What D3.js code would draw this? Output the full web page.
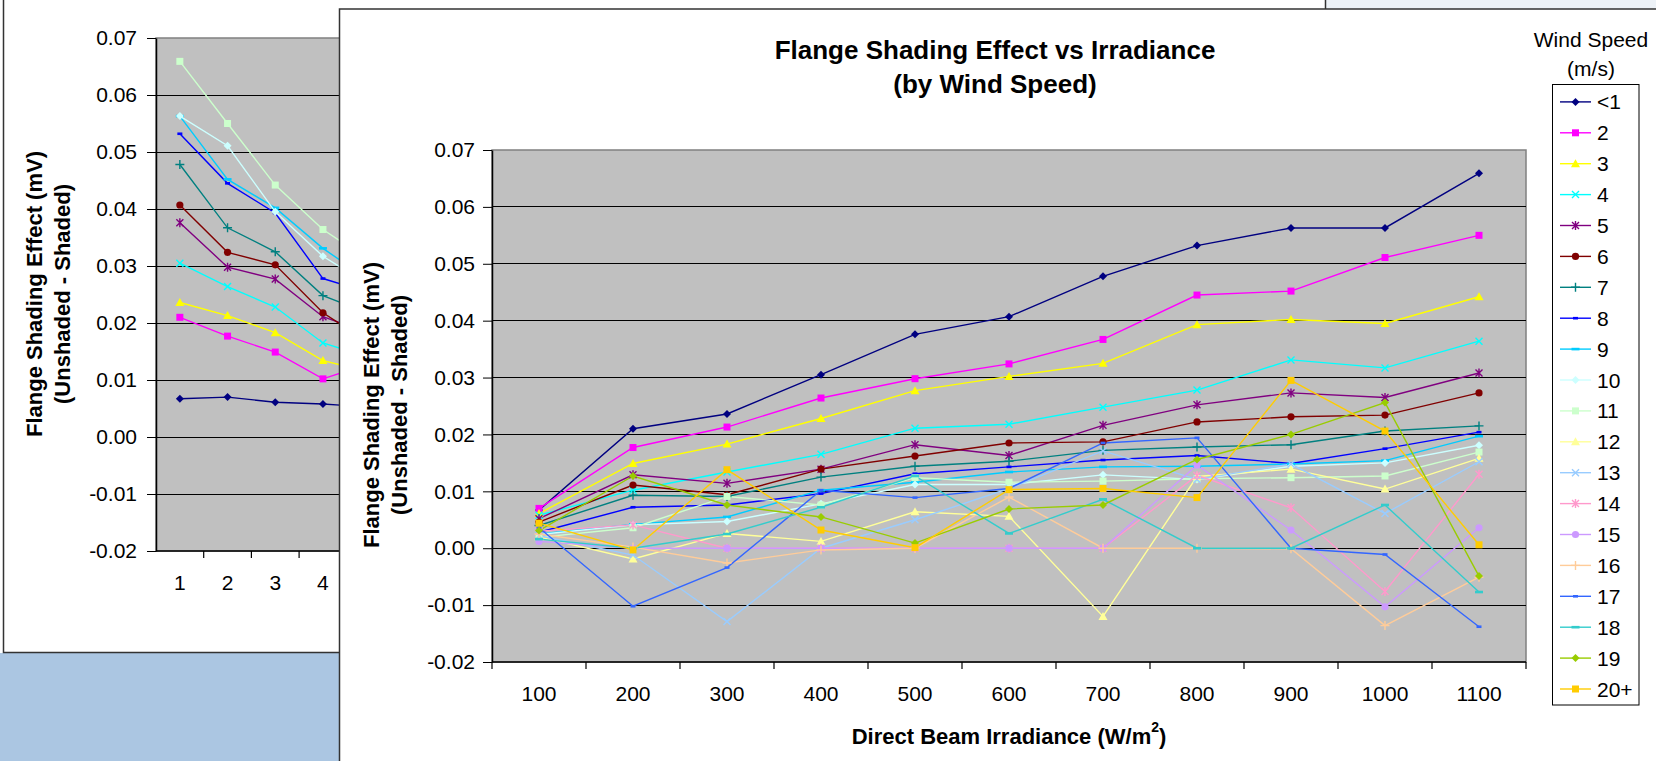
<!DOCTYPE html>
<html>
<head>
<meta charset="utf-8">
<script src="https://cdn.jsdelivr.net/npm/d3@7"></script>
<style>
  html, body { margin: 0; padding: 0; background: #fff; }
  svg { display: block; font-family: "Liberation Sans", Arial, sans-serif; }
</style>
</head>
<body>
<svg id="chart" width="1656" height="761"></svg>
<script>
// ---- data ---------------------------------------------------------------
const irradiance = [100, 200, 300, 400, 500, 600, 700, 800, 900, 1000, 1100];
const windLabels = ["<1", "2", "3", "4", "5", "6", "7", "8", "9", "10",
                    "11", "12", "13", "14", "15", "16", "17", "18", "19", "20+"];
const yTicks = [-0.02, -0.01, 0.00, 0.01, 0.02, 0.03, 0.04, 0.05, 0.06, 0.07];

// flange shading effect (mV) per wind-speed class, over irradiance 100..1100
const windLt1 = [0.0067, 0.0210, 0.0236, 0.0305, 0.0376, 0.0407, 0.0478, 0.0532, 0.0563, 0.0563, 0.0659];
const wind2   = [0.0070, 0.0177, 0.0213, 0.0264, 0.0298, 0.0324, 0.0367, 0.0445, 0.0452, 0.0511, 0.0550];
const wind3   = [0.0061, 0.0149, 0.0183, 0.0228, 0.0277, 0.0302, 0.0325, 0.0393, 0.0402, 0.0395, 0.0442];
const wind4   = [0.0058, 0.0102, 0.0134, 0.0165, 0.0211, 0.0218, 0.0248, 0.0278, 0.0331, 0.0317, 0.0364];
const wind5   = [0.0052, 0.0129, 0.0114, 0.0139, 0.0182, 0.0163, 0.0216, 0.0252, 0.0273, 0.0265, 0.0308];
const wind6   = [0.0046, 0.0111, 0.0094, 0.0139, 0.0162, 0.0185, 0.0187, 0.0222, 0.0231, 0.0234, 0.0273];
const wind7   = [0.0040, 0.0093, 0.0091, 0.0125, 0.0144, 0.0153, 0.0172, 0.0178, 0.0182, 0.0206, 0.0215];
const wind8   = [0.0028, 0.0072, 0.0076, 0.0096, 0.0131, 0.0143, 0.0155, 0.0163, 0.0149, 0.0175, 0.0204];
const wind9   = [0.0025, 0.0042, 0.0055, 0.0102, 0.0116, 0.0134, 0.0143, 0.0144, 0.0148, 0.0154, 0.0197];
const wind10  = [0.0024, 0.0041, 0.0047, 0.0078, 0.0112, 0.0112, 0.0129, 0.0121, 0.0144, 0.0150, 0.0181];
const wind11  = [0.0019, 0.0036, 0.0091, 0.0076, 0.0124, 0.0116, 0.0118, 0.0122, 0.0124, 0.0127, 0.0169];
const wind12  = [0.0020, -0.0019, 0.0026, 0.0012, 0.0064, 0.0056, -0.0120, 0.0126, 0.0139, 0.0104, 0.0158];
const wind13  = [0.0022, -0.0012, -0.0129, 0.0000, 0.0050, 0.0105, 0.0171, 0.0121, 0.0148, 0.0061, 0.0152];
const wind14  = [0.0030, 0.0041, 0.0000, 0.0000, 0.0000, 0.0000, 0.0000, 0.0128, 0.0071, -0.0076, 0.0130];
const wind15  = [0.0012, 0.0000, 0.0000, 0.0000, 0.0000, 0.0000, 0.0000, 0.0146, 0.0032, -0.0103, 0.0036];
const wind16  = [0.0025, 0.0002, -0.0026, -0.0003, 0.0000, 0.0090, 0.0000, 0.0000, -0.0001, -0.0136, -0.0051];
const wind17  = [0.0036, -0.0102, -0.0034, 0.0102, 0.0089, 0.0105, 0.0185, 0.0194, 0.0000, -0.0011, -0.0138];
const wind18  = [0.0016, 0.0000, 0.0025, 0.0072, 0.0127, 0.0026, 0.0086, 0.0000, 0.0000, 0.0076, -0.0077];
const wind19  = [0.0031, 0.0127, 0.0076, 0.0055, 0.0009, 0.0069, 0.0076, 0.0156, 0.0200, 0.0256, -0.0049];
const wind20p = [0.0044, -0.0003, 0.0138, 0.0032, 0.0001, 0.0103, 0.0105, 0.0089, 0.0295, 0.0206, 0.0006];

const windSeries = [windLt1, wind2, wind3, wind4, wind5, wind6, wind7, wind8, wind9, wind10,
                    wind11, wind12, wind13, wind14, wind15, wind16, wind17, wind18, wind19, wind20p];

const seriesColors = ["#000080", "#FF00FF", "#FFFF00", "#00FFFF", "#800080", "#800000", "#008080",
                      "#0000FF", "#00CCFF", "#CCFFFF", "#CCFFCC", "#FFFF99", "#99CCFF", "#FF99CC",
                      "#CC99FF", "#FFCC99", "#3366FF", "#33CCCC", "#99CC00", "#FFCC00"];
const seriesMarkers = ["diamond", "square", "triangle", "x", "star", "circle", "plus", "dash", "longdash",
                       "diamond", "square", "triangle", "x", "star", "circle", "plus", "dash", "longdash",
                       "diamond", "square"];

// ---- helpers ------------------------------------------------------------
const svg = d3.select("#chart");
const fmt = d => d.toFixed(2);

function drawMarker(g, type, cx, cy, color) {
  const m = g.append("g").attr("transform", `translate(${cx},${cy})`);
  switch (type) {
    case "diamond":
      m.append("path").attr("d", "M0,-4L4,0L0,4L-4,0Z").attr("fill", color); break;
    case "square":
      m.append("rect").attr("x", -3.5).attr("y", -3.5).attr("width", 7).attr("height", 7).attr("fill", color); break;
    case "triangle":
      m.append("path").attr("d", "M0,-4.5L4.5,3.5L-4.5,3.5Z").attr("fill", color); break;
    case "x":
      m.append("path").attr("d", "M-3.5,-3.5L3.5,3.5M-3.5,3.5L3.5,-3.5")
        .attr("stroke", color).attr("stroke-width", 1.4).attr("fill", "none"); break;
    case "star":
      m.append("path").attr("d", "M-3.5,-3.5L3.5,3.5M-3.5,3.5L3.5,-3.5M0,-4.5L0,4.5")
        .attr("stroke", color).attr("stroke-width", 1.4).attr("fill", "none"); break;
    case "circle":
      m.append("circle").attr("r", 3.6).attr("fill", color); break;
    case "plus":
      m.append("path").attr("d", "M-4.5,0L4.5,0M0,-4.5L0,4.5")
        .attr("stroke", color).attr("stroke-width", 1.4).attr("fill", "none"); break;
    case "dash":
      m.append("rect").attr("x", -2.5).attr("y", -1.3).attr("width", 5).attr("height", 2.6).attr("fill", color); break;
    case "longdash":
      m.append("rect").attr("x", -4).attr("y", -1.3).attr("width", 8).attr("height", 2.6).attr("fill", color); break;
  }
}

function yTitle(g, cx1, cx2, cy) {
  g.append("text").attr("transform", `translate(${cx1},${cy}) rotate(-90)`)
    .attr("text-anchor", "middle").attr("dominant-baseline", "central")
    .attr("font-weight", "bold").attr("font-size", 22).text("Flange Shading Effect (mV)");
  g.append("text").attr("transform", `translate(${cx2},${cy}) rotate(-90)`)
    .attr("text-anchor", "middle").attr("dominant-baseline", "central")
    .attr("font-weight", "bold").attr("font-size", 22).text("(Unshaded - Shaded)");
}

// ---- page backdrop ------------------------------------------------------
svg.append("rect").attr("width", 1656).attr("height", 761).attr("fill", "#fff");
svg.append("rect").attr("x", 0).attr("y", 653).attr("width", 340).attr("height", 108).attr("fill", "#abc6e2");
svg.append("rect").attr("x", 1325).attr("y", 0).attr("width", 331).attr("height", 9).attr("fill", "#edf2f7");
svg.append("line").attr("x1", 1325.5).attr("x2", 1325.5).attr("y1", 0).attr("y2", 9)
  .attr("stroke", "#333").attr("stroke-width", 1.5);

// ---- background chart: effect by wind-speed index, one line per irradiance ----
const back = svg.append("g");
back.append("path").attr("d", "M3.5,0V652.5H340").attr("fill", "none").attr("stroke", "#333").attr("stroke-width", 1.5);

const windIndex = windLabels.map((d, i) => i + 1);
const xB = d3.scaleBand().domain(windIndex).range([156, 156 + 47.7 * windIndex.length]);
const yB = d3.scaleLinear().domain([-0.02, 0.07]).range([551, 38]);

back.append("clipPath").attr("id", "backClip")
  .append("rect").attr("x", 0).attr("y", 0).attr("width", 340).attr("height", 653);
const bk = back.append("g").attr("clip-path", "url(#backClip)");

bk.append("rect").attr("x", xB.range()[0]).attr("y", yB(0.07))
  .attr("width", xB.range()[1] - xB.range()[0]).attr("height", yB(-0.02) - yB(0.07))
  .attr("fill", "#c0c0c0").attr("stroke", "#808080").attr("stroke-width", 1.5);
yTicks.slice(1, -1).forEach(t => {
  bk.append("line").attr("x1", xB.range()[0]).attr("x2", xB.range()[1])
    .attr("y1", yB(t)).attr("y2", yB(t)).attr("stroke", "#000").attr("stroke-width", 1)
    .attr("shape-rendering", "crispEdges");
});
bk.append("line").attr("x1", xB.range()[0]).attr("x2", xB.range()[1]).attr("y1", yB(-0.02)).attr("y2", yB(-0.02))
  .attr("stroke", "#000").attr("stroke-width", 1.5);

const axB = bk.append("g").attr("transform", `translate(${xB.range()[0]},0)`)
  .call(d3.axisLeft(yB).tickValues(yTicks).tickFormat(fmt).tickSize(9).tickSizeOuter(0).tickPadding(10));
axB.select(".domain").attr("stroke", "#000").attr("stroke-width", 1.5);
axB.selectAll("text").attr("font-size", 21).attr("fill", "#000").attr("font-family", "Liberation Sans, Arial, sans-serif");

windIndex.forEach(d => {
  bk.append("line").attr("x1", xB(d) + xB.bandwidth()).attr("x2", xB(d) + xB.bandwidth())
    .attr("y1", yB(-0.02)).attr("y2", yB(-0.02) + 7).attr("stroke", "#000").attr("stroke-width", 1.2);
  bk.append("text").attr("x", xB(d) + xB.bandwidth() / 2).attr("y", 582)
    .attr("text-anchor", "middle").attr("dominant-baseline", "central").attr("font-size", 21).text(d);
});

irradiance.forEach((irr, k) => {
  const vals = windSeries.map(s => s[k]);
  const line = d3.line().x((v, i) => xB(windIndex[i]) + xB.bandwidth() / 2).y(v => yB(v));
  bk.append("path").attr("d", line(vals)).attr("fill", "none")
    .attr("stroke", seriesColors[k]).attr("stroke-width", 1.4);
  vals.forEach((v, i) => drawMarker(bk, seriesMarkers[k], xB(windIndex[i]) + xB.bandwidth() / 2, yB(v), seriesColors[k]));
});

yTitle(back, 34, 62, 294);

// ---- main chart panel ---------------------------------------------------
const main = svg.append("g");
main.append("rect").attr("x", 339.5).attr("y", 9).attr("width", 1320).attr("height", 760)
  .attr("fill", "#fff").attr("stroke", "#333").attr("stroke-width", 1.5);

const x = d3.scaleBand().domain(irradiance).range([492, 1526]);
const y = d3.scaleLinear().domain([-0.02, 0.07]).range([662, 150]);
const cx = d => x(d) + x.bandwidth() / 2;

main.append("rect").attr("x", 492).attr("y", y(0.07)).attr("width", 1526 - 492).attr("height", y(-0.02) - y(0.07))
  .attr("fill", "#c0c0c0").attr("stroke", "#808080").attr("stroke-width", 1.5);
yTicks.slice(1, -1).forEach(t => {
  main.append("line").attr("x1", 492).attr("x2", 1526).attr("y1", y(t)).attr("y2", y(t))
    .attr("stroke", "#000").attr("stroke-width", 1).attr("shape-rendering", "crispEdges");
});

const axY = main.append("g").attr("transform", "translate(492,0)")
  .call(d3.axisLeft(y).tickValues(yTicks).tickFormat(fmt).tickSize(9).tickSizeOuter(0).tickPadding(8));
axY.select(".domain").attr("stroke", "#000").attr("stroke-width", 1.5);
axY.selectAll("text").attr("font-size", 21).attr("fill", "#000").attr("font-family", "Liberation Sans, Arial, sans-serif");

main.append("line").attr("x1", 492).attr("x2", 1526).attr("y1", y(-0.02)).attr("y2", y(-0.02))
  .attr("stroke", "#000").attr("stroke-width", 1.5);
irradiance.forEach(d => {
  main.append("line").attr("x1", x(d)).attr("x2", x(d)).attr("y1", y(-0.02)).attr("y2", y(-0.02) + 7)
    .attr("stroke", "#000").attr("stroke-width", 1.2);
  main.append("text").attr("x", cx(d)).attr("y", 693).attr("text-anchor", "middle")
    .attr("dominant-baseline", "central").attr("font-size", 21).text(d);
});
main.append("line").attr("x1", 1526).attr("x2", 1526).attr("y1", y(-0.02)).attr("y2", y(-0.02) + 7)
  .attr("stroke", "#000").attr("stroke-width", 1.2);

windSeries.forEach((vals, s) => {
  const line = d3.line().x((v, i) => cx(irradiance[i])).y(v => y(v));
  main.append("path").attr("d", line(vals)).attr("fill", "none")
    .attr("stroke", seriesColors[s]).attr("stroke-width", 1.4);
});
windSeries.forEach((vals, s) => {
  vals.forEach((v, i) => drawMarker(main, seriesMarkers[s], cx(irradiance[i]), y(v), seriesColors[s]));
});

// titles
main.append("text").attr("x", 995).attr("y", 50).attr("text-anchor", "middle").attr("dominant-baseline", "central")
  .attr("font-weight", "bold").attr("font-size", 26).text("Flange Shading Effect vs Irradiance");
main.append("text").attr("x", 995).attr("y", 84).attr("text-anchor", "middle").attr("dominant-baseline", "central")
  .attr("font-weight", "bold").attr("font-size", 26).text("(by Wind Speed)");

yTitle(main, 371, 399, 405);

const xt = main.append("text").attr("x", 1009).attr("y", 736).attr("text-anchor", "middle")
  .attr("dominant-baseline", "central").attr("font-weight", "bold").attr("font-size", 22);
xt.append("tspan").text("Direct Beam Irradiance (W/m");
xt.append("tspan").attr("font-size", 14).attr("dy", -9).text("2");
xt.append("tspan").attr("dy", 9).text(")");

// ---- legend -------------------------------------------------------------
const lg = main.append("g");
lg.append("text").attr("x", 1591).attr("y", 39).attr("text-anchor", "middle").attr("dominant-baseline", "central")
  .attr("font-size", 21).text("Wind Speed");
lg.append("text").attr("x", 1591).attr("y", 68).attr("text-anchor", "middle").attr("dominant-baseline", "central")
  .attr("font-size", 21).text("(m/s)");
lg.append("rect").attr("x", 1552.5).attr("y", 84.5).attr("width", 86.5).attr("height", 620.5)
  .attr("fill", "#fff").attr("stroke", "#000").attr("stroke-width", 1);
windLabels.forEach((lab, i) => {
  const ly = 101.9 + i * 30.9;
  lg.append("line").attr("x1", 1560).attr("x2", 1591).attr("y1", ly).attr("y2", ly)
    .attr("stroke", seriesColors[i]).attr("stroke-width", 1.4);
  drawMarker(lg, seriesMarkers[i], 1575.5, ly, seriesColors[i]);
  lg.append("text").attr("x", 1597).attr("y", ly).attr("dominant-baseline", "central")
    .attr("font-size", 21).text(lab);
});
</script>
</body>
</html>
